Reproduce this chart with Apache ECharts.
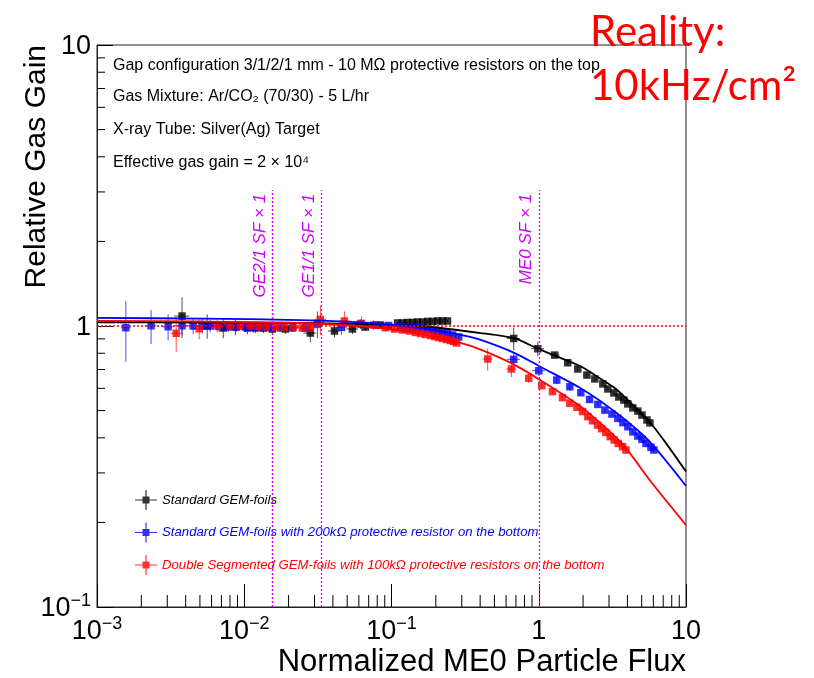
<!DOCTYPE html>
<html><head><meta charset="utf-8">
<script src="https://cdn.jsdelivr.net/npm/echarts@6/dist/echarts.min.js"></script>
<style>html,body{margin:0;padding:0;background:#fff}#c{width:814px;height:678px}</style>
</head><body><div id="c"></div>
<script>
// ---------------- DATA ----------------
const seriesNames = [
  'Standard GEM-foils',
  'Standard GEM-foils with 200k\u03A9 protective resistor on the bottom',
  'Double Segmented GEM-foils with 100k\u03A9 protective resistors on the bottom'
];
// [flux, relative gain, flux error, gain error]
const blackPts = [
  [0.00378,1.085,0.00045,0.18],[0.0056,1.0,0.0006,0.10],[0.0072,0.984,0.0007,0.08],
  [0.0087,0.992,0.0009,0.065],[0.0105,0.984,0.001,0.05],[0.0119,0.984,0.0012,0.04],
  [0.0135,0.984,0.0013,0.04],[0.0155,0.976,0.0015,0.04],[0.019,0.976,0.0019,0.04],
  [0.0281,0.944,0.0028,0.07],[0.041,0.96,0.004,0.05],[0.0543,0.976,0.005,0.04],
  [0.0665,0.992,0.006,0.03],[0.0842,1.008,0.008,0.02],
  [0.110,1.025,0,0.01],[0.119,1.025,0,0.01],[0.128,1.029,0,0.01],[0.139,1.029,0,0.01],
  [0.150,1.033,0,0.01],[0.163,1.033,0,0.01],[0.176,1.038,0,0.01],[0.190,1.038,0,0.01],
  [0.206,1.042,0,0.01],[0.222,1.042,0,0.01],[0.240,1.042,0,0.01],
  [0.676,0.903,0.07,0.085],[0.985,0.83,0.1,0.05],[1.285,0.788,0.1,0.02],[1.574,0.74,0,0.02],
  [1.841,0.703,0,0.015],[2.122,0.669,0,0.015],[2.404,0.648,0,0.01],[2.724,0.622,0,0.01],
  [2.944,0.597,0,0.01],[3.236,0.578,0,0.01],[3.499,0.559,0,0.01],[3.784,0.545,0,0.01],
  [4.027,0.528,0,0.01],[4.355,0.511,0,0.01],[4.71,0.498,0,0.01],[5.023,0.482,0,0.01],
  [5.431,0.463,0,0.01],[5.689,0.452,0,0.01]
];
const bluePts = [
  [0.00157,0.986,0.00012,0.24],[0.00233,1.002,0.0002,0.14],[0.00304,0.994,0.0003,0.105],
  [0.00378,1.002,0.0004,0.075],[0.0045,1.0,0.0004,0.065],[0.00518,1.0,0.0005,0.06],
  [0.00587,1.0,0.0006,0.05],[0.00676,0.996,0.0006,0.04],[0.00778,0.992,0.0007,0.04],
  [0.00882,0.992,0.0008,0.04],[0.01016,0.992,0.001,0.04],[0.0115,0.988,0.001,0.04],
  [0.01325,0.988,0.0012,0.035],[0.01503,0.988,0.0014,0.03],[0.01758,0.984,0.0016,0.03],
  [0.0212,0.984,0.002,0.03],[0.026,0.984,0.0024,0.03],[0.0314,1.016,0.003,0.11],
  [0.0457,0.99,0.004,0.06],[0.0615,1.016,0.005,0.04],[0.0778,1.008,0.007,0.03],
  [0.0955,1.004,0.008,0.025],[0.115,1.0,0,0.02],
  [0.128,0.992,0,0.015],[0.139,0.988,0,0.015],[0.150,0.984,0,0.015],[0.163,0.98,0,0.015],
  [0.176,0.976,0,0.015],[0.190,0.968,0,0.015],[0.206,0.96,0,0.015],[0.222,0.952,0,0.015],
  [0.240,0.94,0,0.015],[0.260,0.929,0,0.015],[0.286,0.914,0,0.015],
  [0.676,0.761,0.07,0.042],[1.0,0.693,0.1,0.03],[1.325,0.642,0,0.02],[1.625,0.608,0,0.02],
  [1.93,0.579,0,0.015],[2.213,0.548,0,0.015],[2.519,0.526,0,0.01],[2.812,0.502,0,0.01],
  [3.14,0.486,0,0.01],[3.446,0.469,0,0.01],[3.726,0.453,0,0.01],[4.029,0.438,0,0.01],
  [4.357,0.42,0,0.01],[4.71,0.406,0,0.01],[5.023,0.395,0,0.01],[5.346,0.382,0,0.01],
  [5.78,0.37,0,0.01],[6.05,0.362,0,0.01]
];
const redPts = [
  [0.00345,0.942,0.0003,0.135],[0.00494,0.978,0.0005,0.08],[0.00655,1.0,0.0006,0.05],
  [0.00803,1.0,0.0008,0.03],[0.00939,1.0,0.0009,0.03],[0.011,1.0,0.001,0.03],
  [0.01245,0.996,0.0012,0.03],[0.0141,0.992,0.0013,0.03],[0.01625,0.992,0.0015,0.03],
  [0.0187,0.988,0.0018,0.03],[0.0215,0.988,0.002,0.03],[0.0248,0.984,0.0024,0.03],
  [0.0281,0.984,0.0027,0.03],[0.0329,1.056,0.003,0.125],[0.0479,1.042,0.0045,0.085],
  [0.0625,1.022,0.006,0.06],[0.0755,1.008,0.007,0.04],[0.091,0.986,0.008,0.03],
  [0.1048,0.976,0.009,0.025],[0.1183,0.968,0,0.02],[0.1325,0.96,0,0.015],
  [0.1456,0.948,0,0.015],[0.1575,0.94,0,0.015],[0.1703,0.933,0,0.015],[0.1842,0.925,0,0.015],
  [0.1963,0.918,0,0.015],[0.2089,0.91,0,0.015],[0.2223,0.903,0,0.015],[0.2366,0.895,0,0.015],
  [0.2518,0.888,0,0.015],[0.2642,0.881,0,0.015],[0.2768,0.87,0,0.015],
  [0.45,0.763,0.035,0.07],[0.652,0.703,0.05,0.045],[0.855,0.652,0,0.025],
  [1.048,0.613,0,0.015],[1.239,0.584,0,0.015],[1.449,0.556,0,0.015],[1.625,0.531,0,0.01],
  [1.815,0.514,0,0.01],[1.983,0.496,0,0.01],[2.154,0.476,0,0.01],[2.318,0.46,0,0.01],
  [2.507,0.444,0,0.01],[2.673,0.431,0,0.01],[2.857,0.418,0,0.01],[3.055,0.404,0,0.01],
  [3.252,0.393,0,0.01],[3.466,0.382,0,0.01],[3.709,0.372,0,0.01],[3.908,0.362,0,0.01]
];
// fit curves [flux, gain]
const blackFit = [[0.001,1.031],[0.00502,1.029],[0.024,1.025],[0.0842,1.012],[0.184,0.992],
  [0.403,0.944],[0.687,0.903],[0.985,0.831],[1.413,0.769],[1.963,0.715],[2.642,0.648],
  [3.34,0.597],[4.227,0.532],[5.6,0.459],[7.31,0.383],[10,0.3035]];
const blueFit = [[0.001,1.068],[0.00502,1.063],[0.024,1.05],[0.0719,1.025],[0.1575,0.984],
  [0.2946,0.929],[0.403,0.892],[0.687,0.801],[1.032,0.715],[1.963,0.597],[3.34,0.492],
  [5.6,0.39],[10,0.2696]];
const redFit = [[0.001,1.042],[0.00502,1.0375],[0.024,1.025],[0.0719,0.992],[0.1575,0.937],
  [0.2946,0.87],[0.403,0.824],[0.645,0.739],[1.04,0.639],[1.963,0.513],[3.67,0.382],
  [5.78,0.279],[10,0.1957]];
// reference flux lines
const refLabels = ['GE2/1 SF \u00D7 1', 'GE1/1 SF \u00D7 1', 'ME0 SF \u00D7 1'];
const refFlux = [0.0155, 0.0334, 1.0];
const refTop = 3.05;
const unityGain = 1;
// axis ranges and minor tick values
const xRange = [0.001, 10];
const yRange = [0.1, 10];
const xMinorTicks = [0.002,0.003,0.004,0.005,0.006,0.007,0.008,0.009,
  0.02,0.03,0.04,0.05,0.06,0.07,0.08,0.09,0.2,0.3,0.4,0.5,0.6,0.7,0.8,0.9,2,3,4,5,6,7,8,9];
const yMinorTicks = [0.2,0.3,0.4,0.5,0.6,0.7,0.8,0.9,2,3,4,5,6,7,8,9];
const infoLines = [
  'Gap configuration 3/1/2/1 mm - 10 M\u03A9 protective resistors on the top',
  'Gas Mixture: Ar/CO\u2082 (70/30) - 5 L/hr',
  'X-ray Tube: Silver(Ag) Target',
  'Effective gas gain = 2 \u00D7 10\u2074'
];
const xTitle = 'Normalized ME0 Particle Flux';
const yTitle = 'Relative Gas Gain';
const noteLines = ['Reality:', '10kHz/cm\u00B2'];

// ---------------- STYLE ----------------
const colors = ['#000000', '#0000ff', '#ff0000'];
const FONT = "'Liberation Sans', Arial, Helvetica, sans-serif";
const MAGENTA = '#d200ff';

const chart = echarts.init(document.getElementById('c'), null, {renderer: 'canvas'});

function powLabel(v) {
  const e = Math.round(Math.log10(v));
  if (e === 0) return '{b|1}';
  if (e === 1) return '{b|10}';
  return '{b|10}{s|' + (e < 0 ? '\u2212' : '') + Math.abs(e) + '}';
}
const labelRich = {
  b: {fontSize: 27, fontFamily: FONT, color: '#000', lineHeight: 30, verticalAlign: 'bottom'},
  s: {fontSize: 18, fontFamily: FONT, color: '#000', lineHeight: 18, verticalAlign: 'top'}
};

function errRenderer(color) {
  return function (params, api) {
    const x = api.value(0), y = api.value(1), xe = api.value(2), ye = api.value(3);
    const c = api.coord([x, y]);
    const ch = [];
    if (ye > 0) {
      const t = api.coord([x, y + ye]), b = api.coord([x, y - ye]);
      ch.push({type: 'line', shape: {x1: c[0], y1: t[1], x2: c[0], y2: b[1]},
        style: {stroke: color, lineWidth: 1, opacity: 0.7}});
    }
    if (xe > 0) {
      const l = api.coord([x - xe, y]), r = api.coord([x + xe, y]);
      ch.push({type: 'line', shape: {x1: l[0], y1: c[1], x2: r[0], y2: c[1]},
        style: {stroke: color, lineWidth: 1, opacity: 0.7}});
    }
    return {type: 'group', children: ch};
  };
}

const series = [];
// minor ticks
series.push({
  type: 'custom', name: 'xminor', silent: true, z: 5,
  data: xMinorTicks.map(v => [v, yRange[0]]), encode: {x: 0, y: 1},
  renderItem: (p, api) => {
    const c = api.coord([api.value(0), api.value(1)]);
    return {type: 'line', shape: {x1: c[0], y1: c[1], x2: c[0], y2: c[1] - 12}, style: {stroke: '#000', lineWidth: 1}};
  }
});
series.push({
  type: 'custom', name: 'yminor', silent: true, z: 5,
  data: yMinorTicks.map(v => [xRange[0], v]), encode: {x: 0, y: 1},
  renderItem: (p, api) => {
    const c = api.coord([api.value(0), api.value(1)]);
    return {type: 'line', shape: {x1: c[0], y1: c[1], x2: c[0] + 8, y2: c[1]}, style: {stroke: '#000', lineWidth: 1}};
  }
});
// reference lines
series.push({
  type: 'line', name: 'refs', data: [], silent: true,
  markLine: {
    symbol: 'none', silent: true, animation: false,
    lineStyle: {color: MAGENTA, type: [2, 2], width: 1.3},
    label: {show: true, position: 'insideEndTop', formatter: p => p.name, color: MAGENTA,
      fontStyle: 'italic', fontSize: 17, fontFamily: FONT, distance: 4},
    data: refFlux.map((x, i) => [{coord: [x, yRange[0]], name: refLabels[i]}, {coord: [x, refTop]}])
      .concat([[{coord: [xRange[0], unityGain], label: {show: false}, lineStyle: {color: '#ff0000', type: [2, 2], width: 1.5}},
                {coord: [xRange[1], unityGain]}]])
  }
});
const allPts = [blackPts, bluePts, redPts];
const allFits = [blackFit, blueFit, redFit];
for (let i = 0; i < 3; i++) {
  series.push({
    type: 'custom', name: seriesNames[i] + ' err', silent: true, clip: true,
    data: allPts[i], encode: {x: 0, y: 1}, renderItem: errRenderer(colors[i])
  });
  series.push({
    type: 'scatter', name: seriesNames[i], data: allPts[i].map(p => [p[0], p[1]]),
    symbol: 'rect', symbolSize: 7.5, itemStyle: {color: colors[i]}, silent: true
  });
  series.push({
    type: 'line', name: seriesNames[i] + ' fit', data: allFits[i], showSymbol: false,
    smooth: 0.25, lineStyle: {color: colors[i], width: 1.8}, silent: true
  });
}

const iconPath = 'path://M0,9.4h22v1.2h-22z M10.4,0h1.2v20h-1.2z M7.5,6.5h7v7h-7z';

const option = {
  animation: false,
  backgroundColor: '#fff',
  grid: {left: 97, right: 128, top: 45, bottom: 71, show: true, borderColor: '#222', borderWidth: 1, containLabel: false},
  xAxis: {
    type: 'log', logBase: 10, min: xRange[0], max: xRange[1],
    axisLine: {show: true, lineStyle: {color: '#222', width: 1}},
    axisTick: {show: true, inside: true, length: 23, lineStyle: {color: '#000'}},
    splitLine: {show: false}, minorTick: {show: false},
    axisLabel: {formatter: powLabel, rich: labelRich, margin: 8, showMinLabel: true, showMaxLabel: true}
  },
  yAxis: {
    type: 'log', logBase: 10, min: yRange[0], max: yRange[1],
    axisLine: {show: true, lineStyle: {color: '#222', width: 1}},
    axisTick: {show: true, inside: true, length: 16, lineStyle: {color: '#000'}},
    splitLine: {show: false}, minorTick: {show: false},
    axisLabel: {formatter: powLabel, rich: labelRich, margin: 6, showMinLabel: true, showMaxLabel: true}
  },
  legend: {
    orient: 'vertical', left: 130, top: 485, itemWidth: 22, itemHeight: 20, itemGap: 12.5,
    selectedMode: false, icon: iconPath,
    data: seriesNames.map((n, i) => ({name: n, textStyle: {color: colors[i]}})),
    textStyle: {fontFamily: FONT, fontStyle: 'italic', fontSize: 13.2}
  },
  graphic: [
    ...infoLines.map((t, i) => ({
      type: 'text', x: 113, y: [66, 97, 130, 163][i], silent: true,
      style: {text: t, fontFamily: FONT, fontSize: 16, fill: '#000', align: 'left', verticalAlign: 'middle'}
    })),
    {type: 'text', x: 37, y: 45, rotation: Math.PI / 2, silent: true,
      style: {text: yTitle, fontFamily: FONT, fontSize: 30, fill: '#000', align: 'right', verticalAlign: 'middle'}},
    {type: 'text', x: 686, y: 662, silent: true,
      style: {text: xTitle, fontFamily: FONT, fontSize: 31, fill: '#000', align: 'right', verticalAlign: 'middle'}},
    {type: 'text', x: 590, y: 32, silent: true,
      style: {text: noteLines[0], fontFamily: "Lato, 'Open Sans', sans-serif", fontSize: 42, fill: '#ff0000', align: 'left', verticalAlign: 'middle'}},
    {type: 'text', x: 590, y: 86, silent: true,
      style: {text: noteLines[1], fontFamily: "Lato, 'Open Sans', sans-serif", fontSize: 42, fill: '#ff0000', align: 'left', verticalAlign: 'middle'}}
  ],
  series: series
};
chart.setOption(option);
</script>
</body></html>
